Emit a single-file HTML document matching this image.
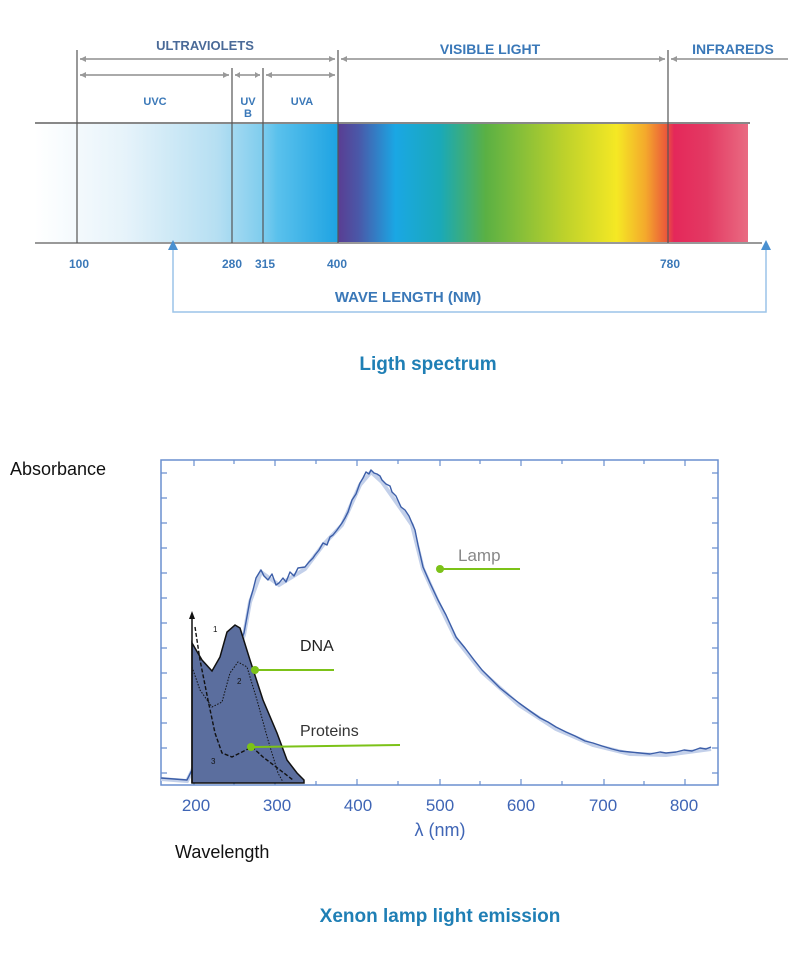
<!DOCTYPE html>
<html><head><meta charset="utf-8"><style>
html,body{margin:0;padding:0;background:#fff;}
svg{display:block;font-family:"Liberation Sans",sans-serif;}
</style></head><body>
<svg width="788" height="964" viewBox="0 0 788 964" xmlns="http://www.w3.org/2000/svg">
<defs>
<linearGradient id="uv" x1="35" x2="338" gradientUnits="userSpaceOnUse">
<stop offset="0" stop-color="#ffffff"/>
<stop offset="0.3" stop-color="#e6f3fa"/>
<stop offset="0.6" stop-color="#b6dff2"/>
<stop offset="0.75" stop-color="#7fcdee"/>
<stop offset="0.8" stop-color="#5ac1ec"/>
<stop offset="1" stop-color="#1ea3e2"/>
</linearGradient>
<linearGradient id="vis" x1="338" x2="748" gradientUnits="userSpaceOnUse">
<stop offset="0" stop-color="#5a3d92"/>
<stop offset="0.05" stop-color="#4a58a8"/>
<stop offset="0.14" stop-color="#1aa7e4"/>
<stop offset="0.25" stop-color="#1aa9b8"/>
<stop offset="0.36" stop-color="#5ab044"/>
<stop offset="0.55" stop-color="#bcd12b"/>
<stop offset="0.68" stop-color="#f5e824"/>
<stop offset="0.75" stop-color="#f4a92c"/>
<stop offset="0.8" stop-color="#eb5a3a"/>
<stop offset="0.82" stop-color="#e4285a"/>
<stop offset="0.9" stop-color="#e33a63"/>
<stop offset="1" stop-color="#e96b82"/>
</linearGradient>
</defs>
<rect x="35" y="123" width="303" height="120" fill="url(#uv)"/>
<rect x="338" y="123" width="410" height="120" fill="url(#vis)"/>
<line x1="35" y1="123" x2="750" y2="123" stroke="#888" stroke-width="2"/>
<line x1="35" y1="243" x2="762" y2="243" stroke="#999" stroke-width="2"/>
<g stroke="#555" stroke-width="1.2">
<line x1="77" y1="50" x2="77" y2="243"/>
<line x1="232" y1="68" x2="232" y2="243"/>
<line x1="263" y1="68" x2="263" y2="243"/>
<line x1="338" y1="50" x2="338" y2="243"/>
<line x1="668" y1="50" x2="668" y2="243"/>
</g>
<g stroke="#aaa" stroke-width="2" fill="#999">
<line x1="80" y1="59" x2="335" y2="59"/><line x1="341" y1="59" x2="665" y2="59"/><line x1="671" y1="59" x2="788" y2="59"/>
<line x1="80" y1="75" x2="229" y2="75"/><line x1="235" y1="75" x2="260" y2="75"/><line x1="266" y1="75" x2="335" y2="75"/>
</g>
<g fill="#999">
<path d="M80 59l6-3v6z M335 59l-6-3v6z M341 59l6-3v6z M665 59l-6-3v6z M671 59l6-3v6z"/>
<path d="M80 75l6-3v6z M229 75l-6-3v6z M235 75l5-3v6z M260 75l-5-3v6z M266 75l6-3v6z M335 75l-6-3v6z"/>
</g>
<g fill="#3a78b8" font-weight="bold" font-size="12">
<text x="205" y="50" text-anchor="middle" fill="#4a6a98" font-size="13">ULTRAVIOLETS</text>
<text x="490" y="54" text-anchor="middle" font-size="14">VISIBLE LIGHT</text>
<text x="733" y="54" text-anchor="middle" font-size="14">INFRAREDS</text>
<text x="155" y="105" text-anchor="middle" font-size="11">UVC</text>
<text x="248" y="105" text-anchor="middle" font-size="11">UV</text>
<text x="248" y="117" text-anchor="middle" font-size="11">B</text>
<text x="302" y="105" text-anchor="middle" font-size="11">UVA</text>
<text x="79" y="268" text-anchor="middle" font-size="12">100</text>
<text x="232" y="268" text-anchor="middle" font-size="12">280</text>
<text x="265" y="268" text-anchor="middle" font-size="12">315</text>
<text x="337" y="268" text-anchor="middle" font-size="12">400</text>
<text x="670" y="268" text-anchor="middle" font-size="12">780</text>
<text x="408" y="302" text-anchor="middle" font-size="15">WAVE LENGTH (NM)</text>
</g>
<path d="M173 240l-5 10h10z M766 240l-5 10h10z" fill="#4a90d0"/>
<polyline points="173,250 173,312 766,312 766,250" fill="none" stroke="#9cc4e8" stroke-width="1.5"/>
<text x="428" y="370" text-anchor="middle" font-size="19" font-weight="bold" fill="#1f7fb5">Ligth spectrum</text>

<rect x="161" y="460" width="557" height="325" fill="none" stroke="#6a8fcf" stroke-width="1.5"/>
<g stroke="#6a8fcf" stroke-width="1.2">
<path d="M161 473h6M161 498h6M161 523h6M161 548h6M161 573h6M161 598h6M161 623h6M161 648h6M161 673h6M161 698h6M161 723h6M161 748h6M161 773h6"/>
<path d="M718 473h-6M718 498h-6M718 523h-6M718 548h-6M718 573h-6M718 598h-6M718 623h-6M718 648h-6M718 673h-6M718 698h-6M718 723h-6M718 748h-6M718 773h-6"/>
<path d="M194 785v-6M234 785v-4M275 785v-6M316 785v-4M357 785v-6M398 785v-4M440 785v-6M480 785v-4M521 785v-6M562 785v-4M604 785v-6M644 785v-4M685 785v-6"/>
<path d="M194 460v6M234 460v4M275 460v6M316 460v4M357 460v6M398 460v4M440 460v6M480 460v4M521 460v6M562 460v4M604 460v6M644 460v4M685 460v6"/>
</g>
<g fill="#3f65b5" font-size="17">
<text x="196" y="811" text-anchor="middle">200</text><text x="277" y="811" text-anchor="middle">300</text>
<text x="358" y="811" text-anchor="middle">400</text><text x="440" y="811" text-anchor="middle">500</text>
<text x="521" y="811" text-anchor="middle">600</text><text x="603" y="811" text-anchor="middle">700</text>
<text x="684" y="811" text-anchor="middle">800</text>
<text x="440" y="836" text-anchor="middle" font-size="18">λ (nm)</text>
</g>
<polyline fill="none" stroke="#c3d0ea" stroke-width="4" points="161,779 187,781 192,771 244,635 250,602 261,572 279,585 305,569 323,545 342,525 360,485 371,472 382,482 401,509 412,525 423,569 438,602 456,639 482,672 519,705 556,729 593,745 630,754 666,755 711,749"/>
<polyline fill="none" stroke="#3c5ea8" stroke-width="1.4" stroke-linejoin="round" points="161,778 187,780 192,770 244,633 250,600 253,590 256,578 259,573 261,570 264,576 268,580 272,574 276,585 279,583 283,578 286,582 290,572 294,576 298,568 305,567 309,562 313,558 315,555 319,550 323,543 327,545 330,537 333,535 337,530 342,523 345,518 348,512 352,500 356,494 360,483 363,478 366,472 369,474 371,470 374,473 377,474 380,476 382,480 386,484 390,486 392,492 396,496 401,507 405,510 409,516 412,523 415,530 418,545 423,567 430,583 438,600 446,615 456,637 465,648 474,660 482,670 492,680 500,688 510,696 519,703 530,711 540,718 548,722 556,727 566,732 575,736 585,741 593,743 602,746 612,749 620,751 630,752 640,753 650,754 660,752 666,753 676,752 684,750 692,751 700,748 706,749 711,747"/>
<path d="M192,643 L202,660 212,671 220,657 227,632 235,625 240,628 250,660 263,700 277,733 287,760 297,773 304,780 L304,783 192,783Z" fill="#5b6e9e" stroke="#111" stroke-width="1.5"/>
<line x1="192" y1="783" x2="192" y2="615" stroke="#111" stroke-width="1.5"/>
<path d="M192 611l-3 8h6z" fill="#111"/>
<polyline fill="none" stroke="#111" stroke-width="1" stroke-dasharray="1.5,1.5" points="192,667 200,690 212,707 222,702 230,673 238,662 247,667 257,700 268,740 278,773 283,782"/>
<polyline fill="none" stroke="#111" stroke-width="1.4" stroke-dasharray="4,2" points="195,627 200,660 208,700 215,733 222,753 232,757 242,752 252,747 263,757 280,770 293,780"/>
<g fill="#111" font-size="8"><text x="213" y="632">1</text><text x="237" y="684">2</text><text x="211" y="764">3</text></g>
<g stroke="#7cc218" stroke-width="2"><line x1="255" y1="670" x2="334" y2="670"/><line x1="251" y1="747" x2="400" y2="745"/><line x1="440" y1="569" x2="520" y2="569"/></g>
<g fill="#7cc218"><circle cx="255" cy="670" r="4"/><circle cx="251" cy="747" r="4"/><circle cx="440" cy="569" r="4"/></g>
<text x="458" y="561" font-size="17" fill="#888">Lamp</text>
<text x="300" y="651" font-size="16" fill="#222">DNA</text>
<text x="300" y="736" font-size="16" fill="#333">Proteins</text>
<text x="10" y="475" font-size="18" fill="#111">Absorbance</text>
<text x="175" y="858" font-size="18" fill="#111">Wavelength</text>
<text x="440" y="922" text-anchor="middle" font-size="19" font-weight="bold" fill="#1f7fb5">Xenon lamp light emission</text>
</svg>
</body></html>
